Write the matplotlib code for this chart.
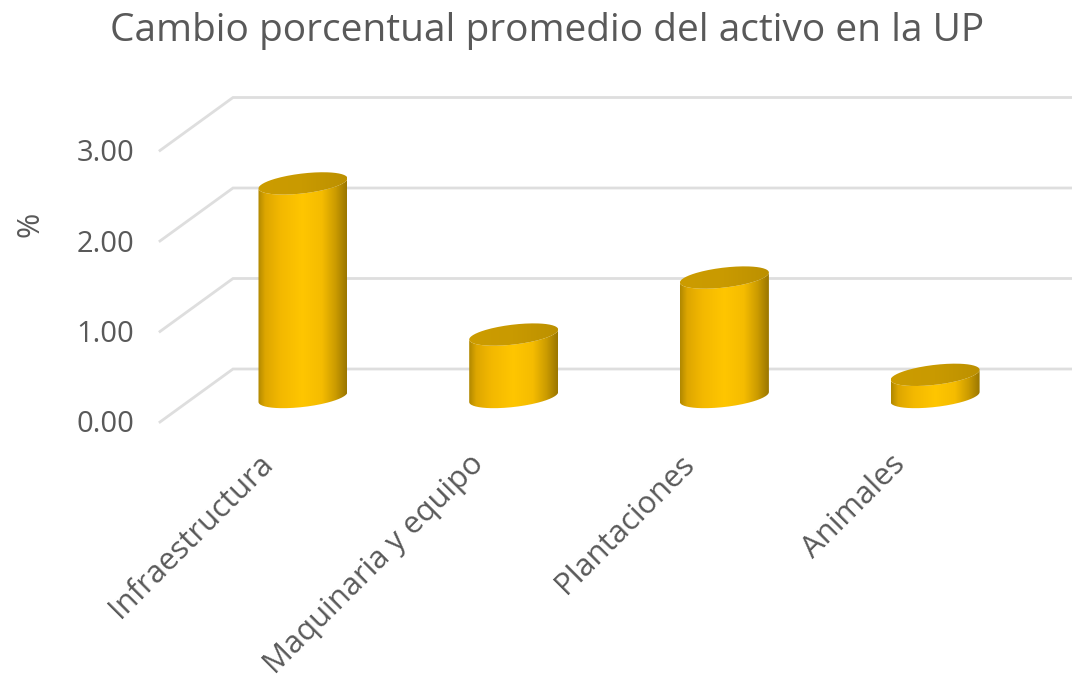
import numpy as np
import matplotlib
matplotlib.use("Agg")
import matplotlib.pyplot as plt
from matplotlib.colors import LinearSegmentedColormap
from matplotlib.patches import PathPatch
from matplotlib.path import Path

# ---- data ----
categories = ["Infraestructura", "Maquinaria y equipo", "Plantaciones", "Animales"]
values = [2.36, 0.69, 1.32, 0.245]
y_ticks = [0, 1, 2, 3]
title = "Cambio porcentual promedio del activo en la UP"
y_label = "%"

W, H = 1072, 683
TXT = "#595959"
GRID = "#DEDEDE"
plt.rcParams["font.family"] = ["Open Sans", "DejaVu Sans"]

fig = plt.figure(figsize=(W / 100, H / 100), dpi=100, facecolor="white")
ax = fig.add_axes([0, 0, 1, 1])

# scales: category step 210.7 px, one unit 90.5 px; category 0 at x=303, front zero at y=422
XS, YS = 210.7, 90.5
X0, Y0 = 303, 422
ax.set_xlim(-X0 / XS, (W - X0) / XS)
ax.set_ylim((Y0 - H) / YS, Y0 / YS)
ax.axis("off")

# 3D wall offsets, expressed in data units
wall_left = (160 - X0) / XS
wall_back = (233 - X0) / XS
depth = 53 / YS
base = (Y0 - 397) / YS
half_w = 44.5 / XS
tilt = 5 / YS
minor = 10 / YS

for t in y_ticks:
    ax.plot([wall_left, wall_back, (W - X0) / XS], [t, t + depth, t + depth],
            color=GRID, lw=2.0, solid_joinstyle="miter", zorder=1)
    ax.text(wall_left - 26 / XS, t - 3 / YS, f"{t:.2f}", ha="right", va="center",
            fontsize=21, color=TXT)

ax.text(30 / XS - X0 / XS, (Y0 - 224) / YS, y_label, rotation=90, ha="center", va="center",
        fontsize=22, color=TXT)
ax.text((547 - X0) / XS, (Y0 - 31) / YS, title, ha="center", va="center",
        fontsize=28, color=TXT)

body = LinearSegmentedColormap.from_list("body", [
    (0.0, "#B08800"), (0.08, "#DDA600"), (0.25, "#F3B800"), (0.5, "#FFC600"),
    (0.72, "#F5BC00"), (0.87, "#CC9C00"), (1.0, "#9A7600")])
lid = LinearSegmentedColormap.from_list("lid", ["#CC9C00", "#C99A00", "#BC9000"])

t_arc = np.linspace(0, np.pi, 80)
t_full = np.linspace(0, 2 * np.pi, 160)

for i, (name, v) in enumerate(zip(categories, values)):
    top = base + v
    # side surface: front half of base ellipse + front half of top ellipse
    bx = i + half_w * np.cos(t_arc)
    by = base + tilt * np.cos(t_arc) - minor * np.sin(t_arc)
    ty = top + tilt * np.cos(t_arc[::-1]) - minor * np.sin(t_arc[::-1])
    tx = i + half_w * np.cos(t_arc[::-1])
    side = PathPatch(Path(np.column_stack([np.r_[bx, tx], np.r_[by, ty]])),
                     transform=ax.transData, fc="none", ec="none")
    ax.add_patch(side)
    grad = np.linspace(0, 1, 256).reshape(1, -1)
    im = ax.imshow(grad, cmap=body, aspect="auto", zorder=3, interpolation="bilinear",
                   extent=[i - half_w, i + half_w, base - minor - tilt - 0.02, top + minor + tilt])
    im.set_clip_path(side)

    cap = PathPatch(Path(np.column_stack([i + half_w * np.cos(t_full),
                                          top + tilt * np.cos(t_full) + minor * np.sin(t_full)])),
                    transform=ax.transData, fc="none", ec="none")
    ax.add_patch(cap)
    im2 = ax.imshow(grad, cmap=lid, aspect="auto", zorder=4, interpolation="bilinear",
                    extent=[i - half_w, i + half_w, top - minor - tilt, top + minor + tilt])
    im2.set_clip_path(cap)

    ax.text(i - 45 / XS, (Y0 - 449) / YS, name, rotation=45, rotation_mode="anchor",
            ha="right", va="top", fontsize=22.3, color=TXT)

ax.set_xlim(-X0 / XS, (W - X0) / XS)
ax.set_ylim((Y0 - H) / YS, Y0 / YS)
fig.savefig("out.png", dpi=100, facecolor="white")
